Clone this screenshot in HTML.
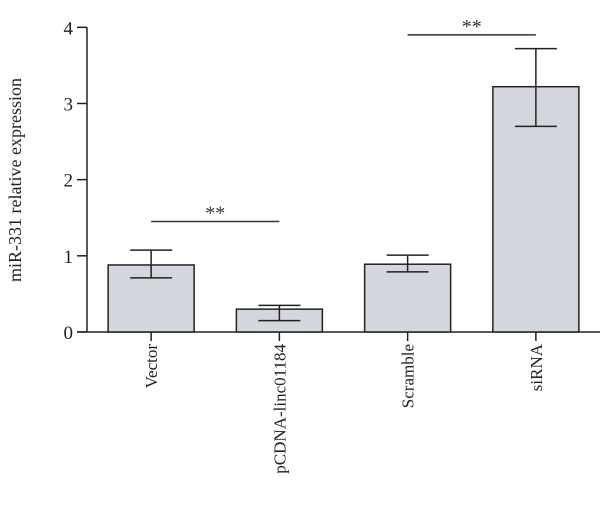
<!DOCTYPE html>
<html><head><meta charset="utf-8"><style>
html,body{margin:0;padding:0;background:#fff;}
svg{display:block;font-family:"Liberation Serif",serif;}
</style></head><body>
<svg id="chart" width="600" height="508" viewBox="0 0 600 508">
<g id="axes"></g><g id="bars"></g><g id="sig"></g>
</svg>
<script>
const categories=["Vector","pCDNA-linc01184","Scramble","siRNA"];
const values=[0.88,0.30,0.89,3.22];
const errHigh=[1.075,0.35,1.01,3.72];
const errLow=[0.71,0.15,0.79,2.70];
const yTicks=[0,1,2,3,4];
const sigPairs=[[0,1,1.45],[2,3,3.9]];
const sigLabels=["**","**"];
const NS="http://www.w3.org/2000/svg";
const y0=332,yTop=27.3,yMax=4,xL=87,xR=600;
const y=v=>y0-(y0-yTop)*v/yMax;
const slot=(xR-xL)/categories.length;
const cx=i=>xL+slot*(i+0.5)-(i<2?1:0)*0;
const bw=86;
function mk(t,a,p){const e=document.createElementNS(NS,t);for(const k in a)e.setAttribute(k,a[k]);p.appendChild(e);return e;}
const ax=document.getElementById('axes'),bg=document.getElementById('bars'),sg=document.getElementById('sig');
let l=mk('line',{x1:xL,y1:yTop,x2:xL,y2:y0,stroke:'#222','stroke-width':1.5},ax);


l=mk('line',{x1:xL-10,y1:y0,x2:xR,y2:y0,stroke:'#222','stroke-width':1.5},ax);


yTicks.forEach(v=>{
 const t=mk('line',{x1:xL-10,y1:y(v),x2:xL,y2:y(v),stroke:'#222','stroke-width':1.5},ax);
 
 
 const tx=mk('text',{x:xL-14,y:y(v)+7,'text-anchor':'end','font-size':19,fill:'#222'},ax);
 tx.textContent=v;
 
 
});
const yt=mk('text',{x:0,y:0,transform:'translate(21,180) rotate(-90)','text-anchor':'middle','font-size':18,fill:'#222'},ax);
yt.textContent='miR-331 relative expression';


categories.forEach((c,i)=>{
 const x=cx(i);
 const r=mk('rect',{x:x-bw/2,y:y(values[i]),width:bw,height:y0-y(values[i]),fill:'#d3d6dd',stroke:'#222','stroke-width':1.5},bg);
 
 
 const e=mk('path',{d:`M${x},${y(errHigh[i])}V${y(errLow[i])}M${x-21},${y(errHigh[i])}H${x+21}M${x-21},${y(errLow[i])}H${x+21}`,stroke:'#222','stroke-width':1.5,fill:'none'},bg);
 
 
 const t=mk('line',{x1:x,y1:y0,x2:x,y2:y0+9,stroke:'#222','stroke-width':1.5},ax);
 
 
 const tx=mk('text',{x:0,y:0,transform:`translate(${x+6},${y0+12}) rotate(-90)`,'text-anchor':'end','font-size':17,fill:'#222'},ax);
 tx.textContent=c;
 
 
});
sigPairs.forEach((p,k)=>{
 const x1=cx(p[0]),x2=cx(p[1]),yy=y(p[2]);
 const ln=mk('line',{x1:x1,y1:yy,x2:x2,y2:yy,stroke:'#333','stroke-width':1.5},sg);
 
 
 const st=mk('text',{x:(x1+x2)/2,y:yy-2,'text-anchor':'middle','font-size':20,fill:'#333'},sg);
 st.textContent=sigLabels[k];
 
 
});
</script>
</body></html>
